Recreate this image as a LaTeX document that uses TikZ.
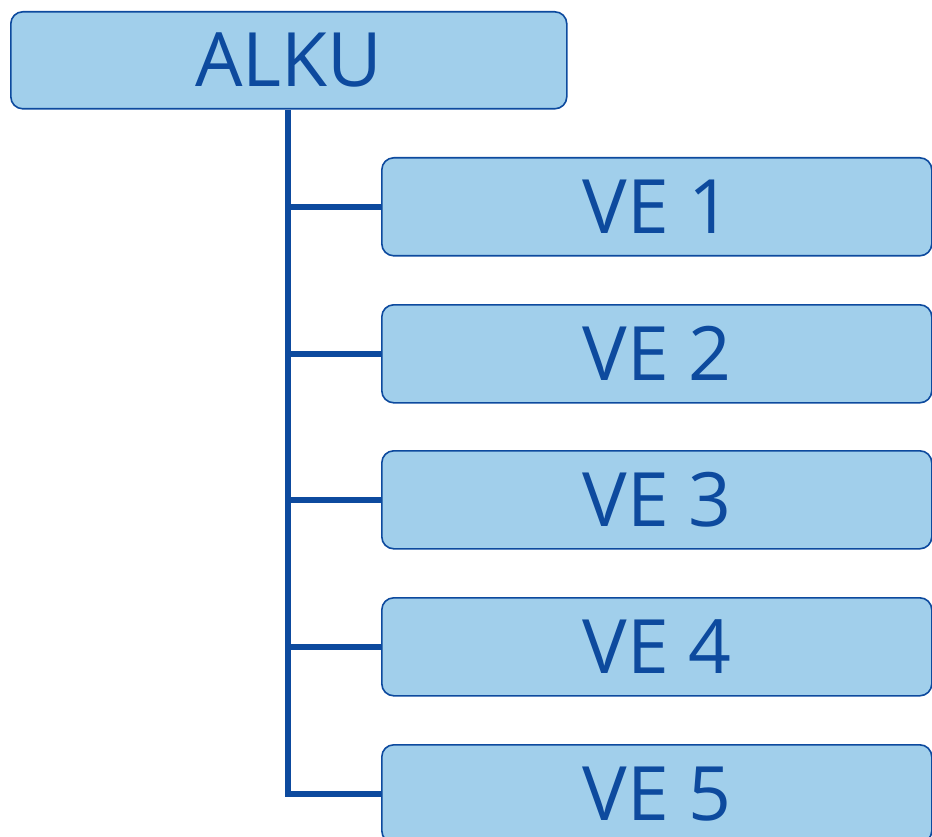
\documentclass[tikz,border=0pt]{standalone}
\usepackage{fontspec}
\setmainfont{Open Sans}
\definecolor{boxfill}{HTML}{A1CFEB}
\definecolor{darkblue}{HTML}{0D4A9E}
\begin{document}
\begin{tikzpicture}[x=1pt,y=-1pt,
  box/.style={draw=darkblue, fill=boxfill, line width=1.6pt, rounded corners=12pt,
    text=darkblue, font=\fontsize{75}{80}\selectfont, inner sep=0pt, anchor=north west},
  link/.style={draw=darkblue, line width=5.5pt}]
\useasboundingbox (0,0) rectangle (932,837);
\clip (0,0) rectangle (932,837);
\node[box, minimum width=556pt, minimum height=97pt] (alku) at (10,11) {ALKU};
\foreach \i/\y in {1/157,2/304,3/450,4/597,5/744}{
  \node[box, minimum width=550pt, minimum height=98pt] (ve\i) at (381,\y) {VE \i};
}
\coordinate (top) at (alku.south -| 288,0);
\draw[link, line cap=butt] (top) |- (ve5.west);
\foreach \i in {1,2,3,4}{
  \draw[link] (top |- ve\i.west) -- (ve\i.west);
}
\end{tikzpicture}
\end{document}
